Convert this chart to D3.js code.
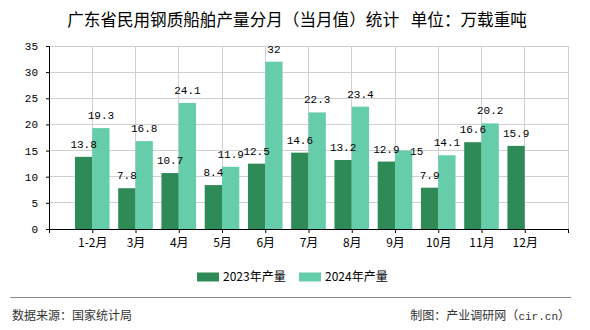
<!DOCTYPE html>
<html><head><meta charset="utf-8">
<script src="https://cdn.jsdelivr.net/npm/d3@7"></script>
<style>body{margin:0;background:#fff}svg{display:block}</style>
</head><body>
<script>
const titleParts = ["广东省民用钢质船舶产量分月（当月值）统计 ","单位：万载重吨"];
const categories = ["1-2月","3月","4月","5月","6月","7月","8月","9月","10月","11月","12月"];
const series2023 = [13.8,7.8,10.7,8.4,12.5,14.6,13.2,12.9,7.9,16.6,15.9];
const series2024 = [19.3,16.8,24.1,11.9,32,22.3,23.4,15,14.1,20.2,null];
const seriesNames = ["2023年产量","2024年产量"];
const yTicks = [0,5,10,15,20,25,30,35];
const colors = ["#2e8b57","#66cdaa"];

const W=590,H=330;
const svg=d3.select("body").append("svg").attr("width",W).attr("height",H);
const cjk="'Noto Sans CJK SC','Noto Sans',sans-serif";
const num="'Liberation Mono','DejaVu Sans Mono',monospace";

const tt=svg.append("text").attr("x",297).attr("y",26).attr("text-anchor","middle")
  .attr("font-family",cjk).attr("font-size",16.6).attr("fill","#000");
tt.append("tspan").text(titleParts[0]);
tt.append("tspan").attr("dx",8).text(titleParts[1]);

const x=d3.scalePoint().domain(["__s",...categories,"__e"]).range([49,568]);
const y=d3.scaleLinear().domain([0,35]).range([229,46]);
const bw=17.3;

// grid
const g=svg.append("g");
g.selectAll(".hg").data(yTicks.slice(1)).join("line")
  .attr("x1",49).attr("x2",568).attr("y1",d=>y(d)).attr("y2",d=>y(d))
  .attr("stroke","#d0d0d0").attr("stroke-width",1).attr("shape-rendering","crispEdges");
g.selectAll(".vg").data(x.domain().slice(1)).join("line")
  .attr("x1",d=>x(d)).attr("x2",d=>x(d)).attr("y1",y(35)).attr("y2",y(0))
  .attr("stroke","#d0d0d0").attr("stroke-width",1).attr("shape-rendering","crispEdges");

// bars
const data=categories.map((c,i)=>({c,i,a:series2023[i],b:series2024[i]}));
svg.selectAll(".ba").data(data).join("rect")
  .attr("x",d=>x(d.c)-bw).attr("width",bw)
  .attr("y",d=>y(d.a)).attr("height",d=>y(0)-y(d.a)).attr("fill",colors[0]);
svg.selectAll(".bb").data(data.filter(d=>d.b!=null)).join("rect")
  .attr("x",d=>x(d.c)).attr("width",bw)
  .attr("y",d=>y(d.b)).attr("height",d=>y(0)-y(d.b)).attr("fill",colors[1]);

// labels
const lab=svg.append("g").attr("font-family",num).attr("font-size",11).attr("fill","#000").attr("text-anchor","middle");
lab.selectAll(".la").data(data).join("text")
  .attr("x",d=>x(d.c)-bw/2).attr("y",d=>y(d.a)-9).text(d=>d.a);
lab.selectAll(".lb").data(data.filter(d=>d.b!=null)).join("text")
  .attr("x",d=>{const base=x(d.c)+bw/2; return d.c==="9月"? base+13 : base;})
  .attr("y",d=>d.c==="9月"? y(d.b)+4 : y(d.b)-9).text(d=>d.b);

// axes
const ax=svg.append("g").attr("transform","translate(0,229)")
  .call(d3.axisBottom(x).tickSize(4).tickFormat(d=>d.startsWith("__")?"":d));
ax.select(".domain").attr("stroke","#000");
ax.selectAll(".tick line").attr("stroke","#000");
ax.selectAll("text").attr("font-family",cjk).attr("font-size",12).attr("fill","#000").attr("dy","0.9em");

const ay=svg.append("g").attr("transform","translate(49,0)")
  .call(d3.axisLeft(y).tickValues(yTicks).tickSize(3).tickPadding(8));
ay.select(".domain").attr("stroke","#000");
ay.selectAll(".tick line").attr("stroke","#000");
ay.selectAll("text").attr("font-family",num).attr("font-size",11).attr("fill","#000");

// legend
const lg=svg.append("g");
const lx=[197,299];
seriesNames.forEach((n,i)=>{
  lg.append("rect").attr("x",lx[i]).attr("y",272.5).attr("width",22).attr("height",9).attr("fill",colors[i]);
  lg.append("text").attr("x",lx[i]+26).attr("y",281).attr("font-family",cjk).attr("font-size",12).attr("fill","#000").text(n);
});

// footer
svg.append("line").attr("x1",10).attr("x2",571).attr("y1",297.5).attr("y2",297.5).attr("stroke","#888").attr("stroke-width",1);
svg.append("text").attr("x",12).attr("y",320).attr("font-family",cjk).attr("font-size",12).attr("fill","#333").text("数据来源：国家统计局");
const ft=svg.append("text").attr("x",570).attr("y",320).attr("text-anchor","end").attr("font-family",cjk).attr("font-size",12).attr("fill","#333");
ft.append("tspan").text("制图：产业调研网（");
ft.append("tspan").attr("font-family",num).attr("font-size",11).text("cir.cn");
ft.append("tspan").text("）");
</script>
</body></html>
